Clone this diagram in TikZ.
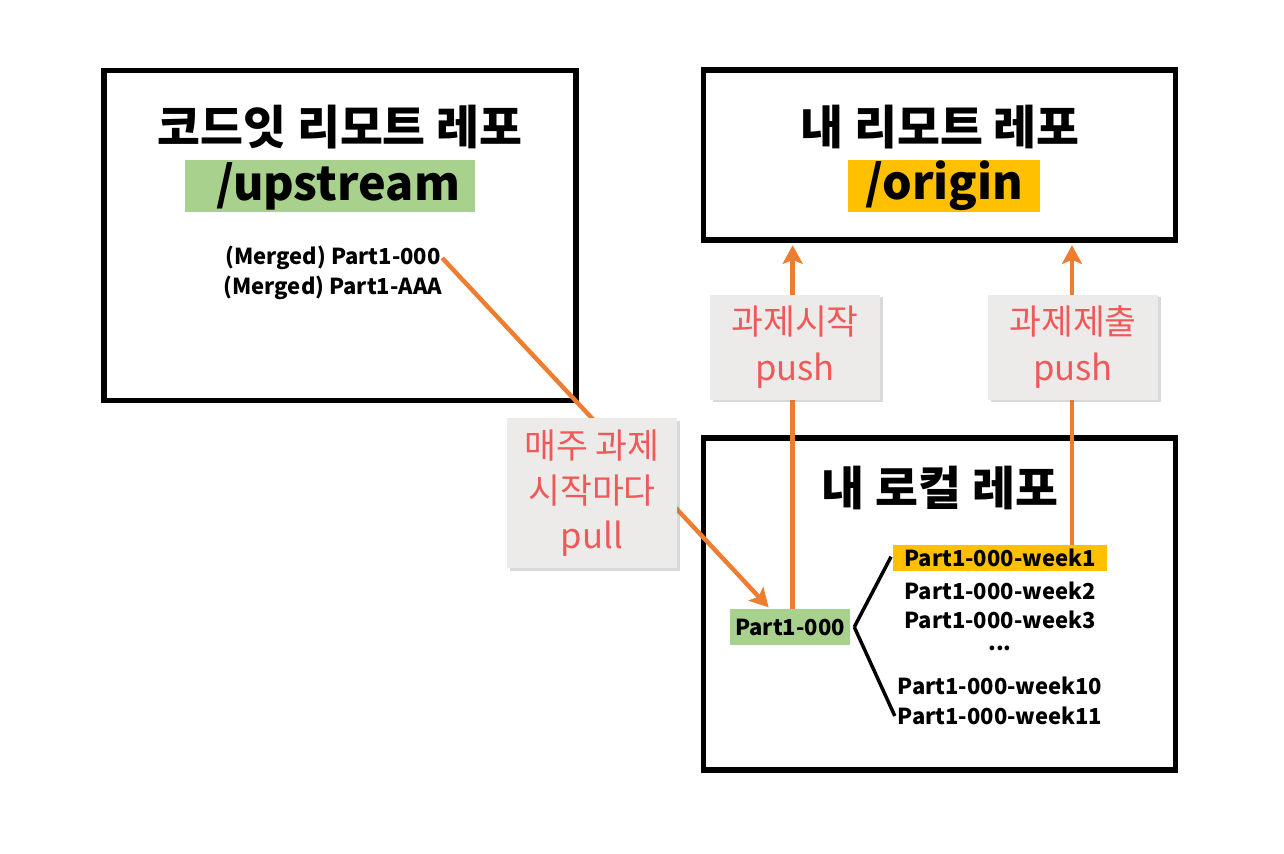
\documentclass[tikz,border=0pt]{standalone}
\usepackage{fontspec}
\setmainfont{Noto Sans CJK KR}
\usetikzlibrary{shapes.geometric, arrows.meta, shadows}
\definecolor{gitorange}{HTML}{ED7D31}
\definecolor{upgreen}{HTML}{A9D18E}
\definecolor{origyellow}{HTML}{FFC000}
\definecolor{notegray}{HTML}{EDEBE9}
\definecolor{notered}{HTML}{EE5A5A}
\tikzstyle{arrow} = [line width=3.3pt,-{Stealth[length=14pt,width=15pt,inset=3pt]},draw=gitorange]
\tikzstyle{branch} = [line width=2.6pt,draw=black]
\tikzstyle{repoBox} = [rectangle, draw=black, line width=3.8pt, minimum width=354pt]
\tikzstyle{title} = [font=\fontsize{35}{40}\selectfont\bfseries, inner sep=0pt]
\tikzstyle{tag} = [rectangle, font=\fontsize{35}{40}\selectfont\bfseries, minimum height=39pt, inner sep=0pt]
\tikzstyle{ref} = [font=\fontsize{16.5}{18}\selectfont\bfseries, inner sep=1pt]
\tikzstyle{note} = [rectangle, fill=notegray, text=notered, font=\fontsize{26}{34}\selectfont, align=center, minimum width=127.5pt, drop shadow={shadow xshift=2pt, shadow yshift=-2pt, opacity=0.3}]

\begin{document}
\begin{tikzpicture}[x=0.75pt, y=-0.75pt]
	\useasboundingbox (0,0) rectangle (1284,853);
	% repositories
	\node (upstream) [repoBox, minimum height=248pt] at (340,235.5) {};
	\node (origin) [repoBox, minimum height=127.5pt] at (939.5,155) {};
	\node (local) [repoBox, minimum height=249pt] at (939.5,604) {};
	\node (upTitle) [title] at (340,127) {코드잇 리모트 레포};
	\node (upTag) [tag, fill=upgreen, minimum width=217.5pt] at (330,186) {\hspace{12pt}/upstream};
	\node (originTitle) [title] at (940,127) {내 리모트 레포};
	\node (originTag) [tag, fill=origyellow, minimum width=144pt] at (944,186) {/origin};
	\node (localTitle) [title] at (940,488) {내 로컬 레포};
	% branches
	\node (merged1) [ref] at (333,258) {(Merged) Part1-000};
	\node (merged2) [ref] at (333,288) {(Merged) Part1-AAA};
	\node (part) [ref, fill=upgreen, minimum width=90pt, minimum height=27pt] at (790,627) {Part1-000};
	\node (week1) [ref, fill=origyellow, minimum width=161pt, minimum height=19pt] at (1000,558) {Part1-000-week1};
	\node (week2) [ref] at (1000,591) {Part1-000-week2};
	\node (week3) [ref] at (1000,620) {Part1-000-week3};
	\node (dots) [ref] at (1000,648) {...};
	\node (week10) [ref] at (1000,686) {Part1-000-week10};
	\node (week11) [ref] at (1000,716) {Part1-000-week11};
	\draw [branch] ([xshift=3pt]part.east) -- ([xshift=-1pt,yshift=1pt]week1.west);
	\draw [branch] ([xshift=3pt]part.east) -- ([xshift=-1pt]week11.west);
	% flows
	\draw [arrow] (merged1.east) -- ([xshift=-16pt,yshift=1pt]part.north);
	\draw [arrow, shorten >=2pt] ([xshift=2pt]part.north) -- ([xshift=2pt]part.north |- origin.south);
	\draw [arrow, shorten >=2pt] ([xshift=54pt]week1.north) -- ([xshift=54pt]week1.north |- origin.south);
	\node (pullNote) [note, minimum height=112.5pt] at (592,493) {매주 과제\\시작마다\\pull};
	\node (startNote) [note, minimum height=78.75pt] at (795,347) {과제시작\\push};
	\node (submitNote) [note, minimum height=78.75pt] at (1073,347) {과제제출\\push};
\end{tikzpicture}
\end{document}
